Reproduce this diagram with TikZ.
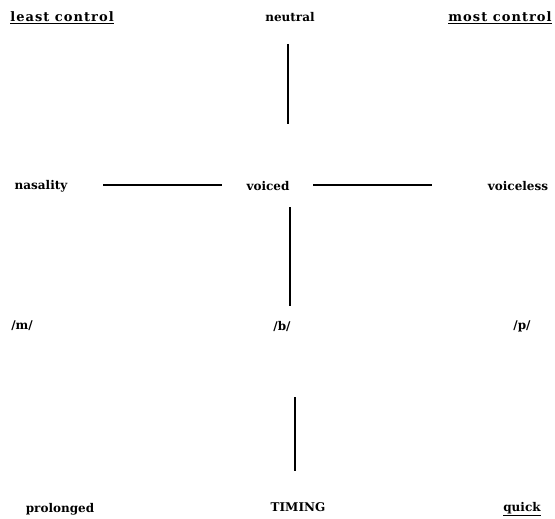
\documentclass[tikz,border=0pt]{standalone}
\usepackage{fontspec}
\setmainfont{DejaVu Serif}
\usepackage{tikz}
\usetikzlibrary{positioning}

\begin{document}
\begin{tikzpicture}[x=1pt, y=-1pt, font=\bfseries\fontsize{12}{14}\selectfont,
  lbl/.style={inner sep=1pt},
  wide/.style={lbl, font=\bfseries\fontsize{13}{15}\selectfont\addfontfeature{LetterSpace=8}},
  bar/.style={line width=2.6pt}]

  \useasboundingbox (0,0) rectangle (555,519);

  % Top row
  \node[wide] (least) at (62,18) {\underline{least control}};
  \node[lbl] (neutral) at (290,17) {neutral};
  \node[wide] (most) at (500,18) {\underline{most control}};

  % Middle row
  \node[lbl] (nasal) at (41,186) {nasality};
  \node[lbl] (voiced) at (268,186) {voiced};
  \node[lbl] (vless) at (518,186) {voiceless};

  % Sounds
  \node[lbl] (m) at (22,326) {/m/};
  \node[lbl] (b) at (282,326) {/b/};
  \node[lbl] (p) at (522,326) {/p/};

  % Bottom row
  \node[lbl] (prol) at (60,509) {prolonged};
  \node[lbl] (timing) at (298,507) {TIMING};
  \node[lbl] (quick) at (522,509) {\underline{quick}};

  % Line ends
  \coordinate (a1) at (288,44);
  \coordinate (a2) at (288,124);
  \coordinate (b1) at (290,207);
  \coordinate (b2) at (290,306);
  \coordinate (c1) at (295,397);
  \coordinate (c2) at (295,471);
  \coordinate (h1) at (103,185);
  \coordinate (h2) at (222,185);
  \coordinate (h3) at (313,185);
  \coordinate (h4) at (432,185);

  \draw[bar] (a1) -- (a2);
  \draw[bar] (b1) -- (b2);
  \draw[bar] (c1) -- (c2);
  \draw[bar] (h1) -- (h2);
  \draw[bar] (h3) -- (h4);

\end{tikzpicture}
\end{document}
